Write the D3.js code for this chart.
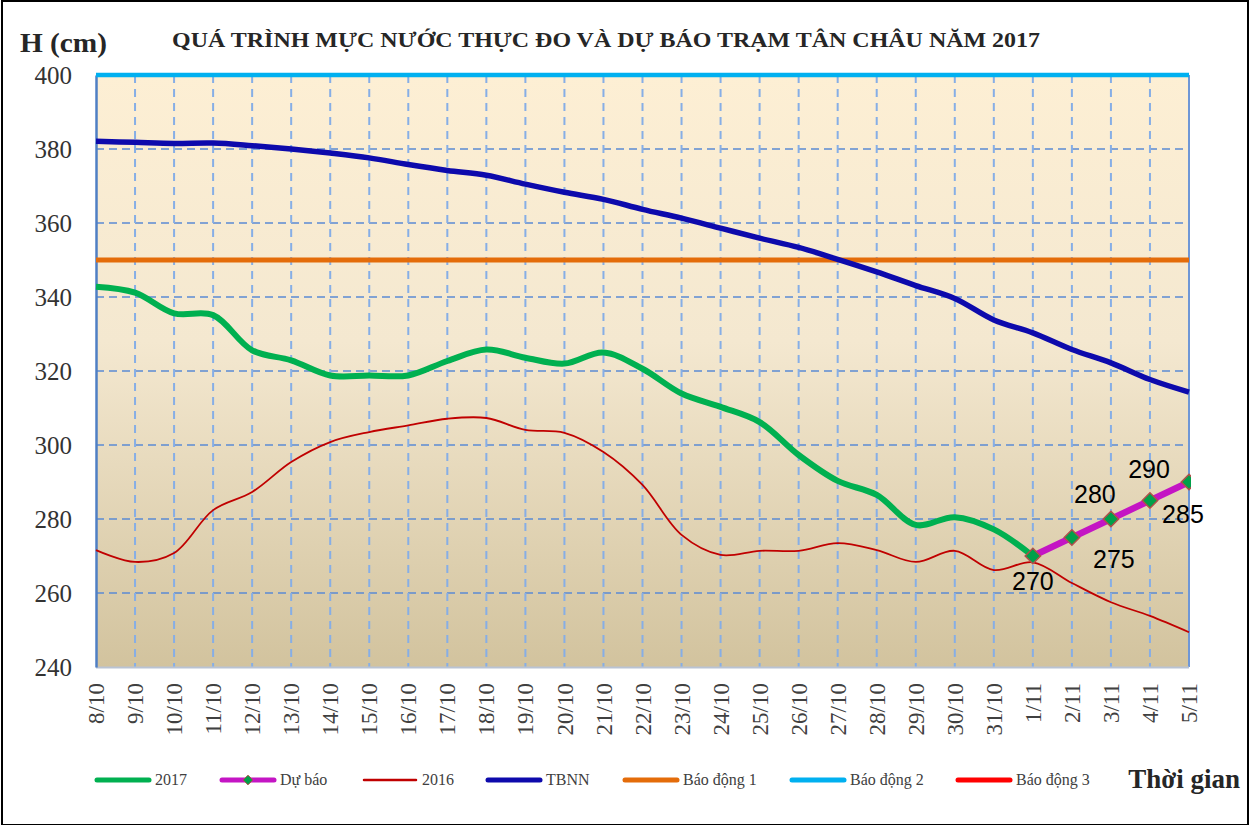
<!DOCTYPE html>
<html>
<head>
<meta charset="utf-8">
<script src="https://cdn.jsdelivr.net/npm/d3@7"></script>
<style>
  body { margin: 0; background: #fff; }
  svg { display: block; }
</style>
</head>
<body>
<div id="chart"></div>
<script>
// Chart data
let dates = ["8/10", "9/10", "10/10", "11/10", "12/10", "13/10", "14/10", "15/10", "16/10", "17/10",
  "18/10", "19/10", "20/10", "21/10", "22/10", "23/10", "24/10", "25/10", "26/10", "27/10",
  "28/10", "29/10", "30/10", "31/10", "1/11", "2/11", "3/11", "4/11", "5/11"];

let level2017 = [342.8, 341.2, 335.6, 335.1, 325.6, 322.9, 318.8, 318.8, 318.8, 322.7,
  325.8, 323.6, 322.0, 325.0, 320.6, 313.9, 310.3, 306.2, 297.3, 290.3,
  286.5, 278.4, 280.5, 277.2, 270.0];

let forecastDates = ["1/11", "2/11", "3/11", "4/11", "5/11"];
let forecast = [270, 275, 280, 285, 290];

let level2016 = [271.6, 268.4, 270.8, 282.4, 287.3, 295.4, 300.8, 303.5, 305.3, 307.1,
  307.3, 304.1, 303.3, 298.1, 289.2, 275.7, 270.3, 271.4, 271.4, 273.5,
  271.6, 268.4, 271.4, 266.2, 268.3, 262.7, 257.5, 253.8, 249.4];

let tbnn = [382.1, 381.8, 381.5, 381.6, 380.9, 380.0, 378.9, 377.6, 375.8, 374.2,
  372.9, 370.5, 368.3, 366.4, 363.7, 361.3, 358.6, 355.9, 353.4, 350.2,
  346.8, 343.1, 339.6, 333.8, 330.3, 325.8, 322.2, 317.7, 314.3];

let alarm1 = 350;
let alarm2 = 400;
let alarm3 = 450;

let yTicks = [240, 260, 280, 300, 320, 340, 360, 380, 400];

// svg size and margins
let svgWidth = 1254;
let svgHeight = 825;
let margin = { top: 75, right: 65, bottom: 158, left: 96 };
let width = svgWidth - margin.left - margin.right;
let height = svgHeight - margin.top - margin.bottom;

let svg = d3.select("#chart")
  .append("svg")
  .attr("width", svgWidth)
  .attr("height", svgHeight);

// outer frame
svg.append("rect")
  .attr("x", 2).attr("y", 1)
  .attr("width", svgWidth - 8).attr("height", svgHeight - 1)
  .attr("fill", "none")
  .attr("stroke", "#000")
  .attr("stroke-width", 2);

// plot background gradient
let defs = svg.append("defs");
let grad = defs.append("linearGradient")
  .attr("id", "bg").attr("x1", 0).attr("y1", 0).attr("x2", 0).attr("y2", 1);
grad.append("stop").attr("offset", "0%").attr("stop-color", "#fdefd4");
grad.append("stop").attr("offset", "45%").attr("stop-color", "#f4e8d0");
grad.append("stop").attr("offset", "100%").attr("stop-color", "#d2c39e");

defs.append("clipPath").attr("id", "plotClip")
  .append("rect").attr("x", -2).attr("y", -4).attr("width", width + 4).attr("height", height + 6);

let chartGroup = svg.append("g")
  .attr("transform", `translate(${margin.left}, ${margin.top})`);

// scales
let xScale = d3.scalePoint()
  .domain(dates)
  .range([0, width]);

let yScale = d3.scaleLinear()
  .domain([240, 400])
  .range([height, 0]);

chartGroup.append("rect")
  .attr("width", width)
  .attr("height", height)
  .attr("fill", "url(#bg)");

// horizontal grid
chartGroup.append("g")
  .selectAll("line")
  .data(yTicks.filter(d => d > 240 && d < 400))
  .enter()
  .append("line")
  .attr("x1", 0).attr("x2", width)
  .attr("y1", d => yScale(d)).attr("y2", d => yScale(d))
  .attr("stroke", "#5b8ad4")
  .attr("stroke-width", 1.6)
  .attr("stroke-dasharray", "8,5");

// vertical grid
chartGroup.append("g")
  .selectAll("line")
  .data(dates.slice(1, -1))
  .enter()
  .append("line")
  .attr("x1", d => xScale(d)).attr("x2", d => xScale(d))
  .attr("y1", 0).attr("y2", height)
  .attr("stroke", "#86aee6")
  .attr("stroke-width", 2)
  .attr("stroke-dasharray", "8,6");

// right border and bottom axis line
chartGroup.append("line")
  .attr("x1", width).attr("x2", width).attr("y1", 0).attr("y2", height)
  .attr("stroke", "#6f97d6").attr("stroke-width", 2);
chartGroup.append("line")
  .attr("x1", 0).attr("x2", width).attr("y1", height + 0.5).attr("y2", height + 0.5)
  .attr("stroke", "#b9c3d3").attr("stroke-width", 2);

// axes
let bottomAxis = d3.axisBottom(xScale).tickSize(0).tickPadding(0);
let xAxisG = chartGroup.append("g")
  .attr("transform", `translate(0, ${height})`)
  .call(bottomAxis);
xAxisG.select(".domain").remove();
xAxisG.selectAll("text")
  .attr("transform", "rotate(-90)")
  .attr("x", -16)
  .attr("y", 0)
  .attr("dy", "0.33em")
  .style("text-anchor", "end")
  .style("font-family", "'Liberation Serif', 'Times New Roman', serif")
  .style("font-size", "23px")
  .style("fill", "#404040");

let leftAxis = d3.axisLeft(yScale).tickValues(yTicks).tickSize(0).tickPadding(24);
let yAxisG = chartGroup.append("g").call(leftAxis);
yAxisG.select(".domain")
  .attr("stroke", "#4f7fc4").attr("stroke-width", 2.5);
yAxisG.selectAll("text")
  .attr("dy", "0.34em")
  .style("font-family", "'Liberation Serif', 'Times New Roman', serif")
  .style("font-size", "25px")
  .style("fill", "#333");

// series lines
let plot = chartGroup.append("g").attr("clip-path", "url(#plotClip)");

let smoothLine = d3.line()
  .x(d => xScale(d[0]))
  .y(d => yScale(d[1]))
  .curve(d3.curveCatmullRom.alpha(0.5));

let straightLine = d3.line()
  .x(d => xScale(d[0]))
  .y(d => yScale(d[1]));

function hLine(value, color, w) {
  plot.append("line")
    .attr("x1", 0).attr("x2", width)
    .attr("y1", yScale(value)).attr("y2", yScale(value))
    .attr("stroke", color).attr("stroke-width", w);
}

hLine(alarm3, "#ff0000", 4);
hLine(alarm1, "#e46c0a", 5);

plot.append("path")
  .datum(dates.map((d, i) => [d, level2016[i]]))
  .attr("d", smoothLine)
  .attr("fill", "none")
  .attr("stroke", "#c00000")
  .attr("stroke-width", 1.8);

plot.append("path")
  .datum(dates.map((d, i) => [d, tbnn[i]]))
  .attr("d", smoothLine)
  .attr("fill", "none")
  .attr("stroke", "#0d0aac")
  .attr("stroke-width", 5.5);

plot.append("path")
  .datum(level2017.map((v, i) => [dates[i], v]))
  .attr("d", smoothLine)
  .attr("fill", "none")
  .attr("stroke", "#00b050")
  .attr("stroke-width", 6);

plot.append("path")
  .datum(forecastDates.map((d, i) => [d, forecast[i]]))
  .attr("d", straightLine)
  .attr("fill", "none")
  .attr("stroke", "#c415c4")
  .attr("stroke-width", 6.5);

hLine(alarm2, "#00b0f0", 4.5);

// forecast markers
let diamond = d3.symbol().type(d3.symbolDiamond2).size(150);
plot.selectAll(".marker")
  .data(forecastDates.map((d, i) => [d, forecast[i]]))
  .enter()
  .append("path")
  .attr("class", "marker")
  .attr("d", diamond)
  .attr("transform", d => `translate(${xScale(d[0])}, ${yScale(d[1])})`)
  .attr("fill", "#00a04a")
  .attr("stroke", "#b0504a")
  .attr("stroke-width", 1.5);

// forecast data labels, nudged off the line like the original
let labelDx = [0, 42, -16, 33, -40];
let labelDy = [34, 30, -16, 22, -4];
chartGroup.selectAll(".dlabel")
  .data(forecastDates.map((d, i) => [d, forecast[i], i]))
  .enter()
  .append("text")
  .attr("class", "dlabel")
  .attr("x", d => xScale(d[0]) + labelDx[d[2]])
  .attr("y", d => yScale(d[1]) + labelDy[d[2]])
  .style("text-anchor", "middle")
  .style("font-family", "'Liberation Sans', Arial, sans-serif")
  .style("font-size", "25px")
  .style("fill", "#000")
  .text(d => d[1]);

// titles
svg.append("text")
  .attr("x", 20).attr("y", 52)
  .attr("textLength", 87)
  .attr("lengthAdjust", "spacingAndGlyphs")
  .style("font-family", "'Liberation Serif', 'Times New Roman', serif")
  .style("font-weight", "bold")
  .style("font-size", "27px")
  .style("fill", "#262626")
  .text("H (cm)");

svg.append("text")
  .attr("x", 172).attr("y", 47)
  .attr("textLength", 868)
  .attr("lengthAdjust", "spacingAndGlyphs")
  .style("font-family", "'Liberation Serif', 'Times New Roman', serif")
  .style("font-weight", "bold")
  .style("font-size", "22px")
  .style("fill", "#262626")
  .text("QUÁ TRÌNH MỰC NƯỚC THỰC ĐO VÀ DỰ BÁO TRẠM TÂN CHÂU NĂM 2017");

svg.append("text")
  .attr("x", 1240).attr("y", 788)
  .style("text-anchor", "end")
  .style("font-family", "'Liberation Serif', 'Times New Roman', serif")
  .style("font-weight", "bold")
  .style("font-size", "27px")
  .style("fill", "#262626")
  .text("Thời gian");

// legend
let legendNames = ["2017", "Dự báo", "2016", "TBNN", "Báo động 1", "Báo động 2", "Báo động 3"];
let legendColors = ["#00b050", "#c415c4", "#c00000", "#0d0aac", "#e46c0a", "#00b0f0", "#ff0000"];
let legendWidths = [5, 5, 2.5, 5, 5, 5, 5];
let legendX = [97, 222, 364, 488, 625, 792, 958];
let legendY = 780;

let legend = svg.append("g");
legendNames.forEach(function (name, i) {
  let g = legend.append("g").attr("transform", `translate(${legendX[i]}, ${legendY})`);
  g.append("line")
    .attr("x1", 0).attr("x2", 52)
    .attr("y1", 0).attr("y2", 0)
    .attr("stroke", legendColors[i])
    .attr("stroke-width", legendWidths[i])
    .attr("stroke-linecap", "round");
  if (name === "Dự báo") {
    g.append("path")
      .attr("d", d3.symbol().type(d3.symbolDiamond2).size(60))
      .attr("transform", "translate(26, 0)")
      .attr("fill", "#00a04a")
      .attr("stroke", "#b0504a")
      .attr("stroke-width", 1);
  }
  g.append("text")
    .attr("x", 58).attr("y", 5)
    .style("font-family", "'Liberation Serif', 'Times New Roman', serif")
    .style("font-size", "16px")
    .style("fill", "#404040")
    .text(name);
});
</script>
</body>
</html>
